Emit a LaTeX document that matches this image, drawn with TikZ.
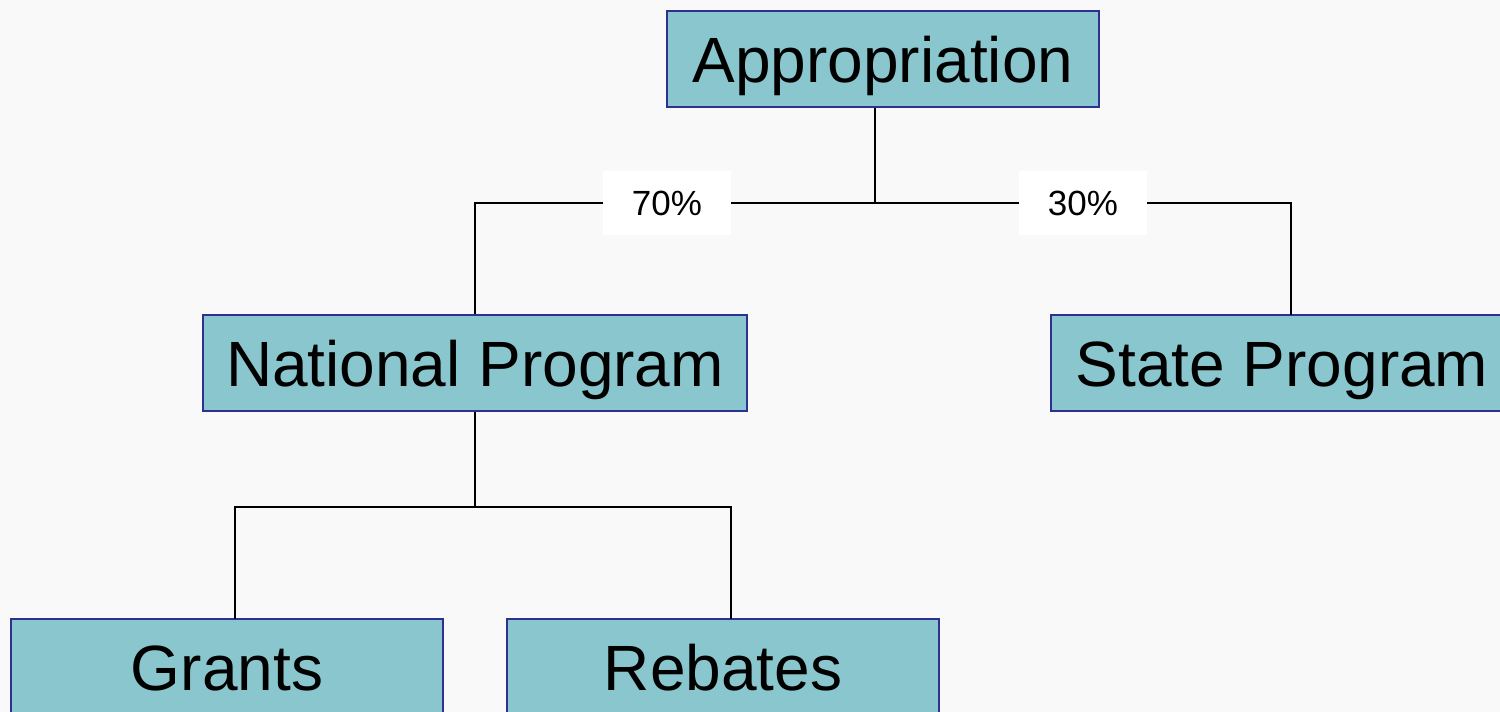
\documentclass[tikz,border=0pt]{standalone}
\usepackage{fontspec}
\setmainfont{Liberation Sans}
\definecolor{bg}{HTML}{F9F9F9}
\definecolor{boxfill}{HTML}{8AC6CE}
\definecolor{boxline}{HTML}{2E3192}
\begin{document}
\begin{tikzpicture}[x=0.5pt,y=-0.5pt,
  orgbox/.style={draw=boxline, fill=boxfill, line width=1pt, minimum height=48pt, inner sep=0pt,
    text height=23pt, text depth=0pt,
    font=\fontsize{32}{38}\selectfont, text=black},
  pct/.style={fill=white, minimum width=64pt, minimum height=32pt, inner sep=0pt,
    text height=12.5pt, text depth=0pt,
    font=\fontsize{17.5}{21}\selectfont},
  conn/.style={line width=1pt, black}]
\fill[bg] (0,0) rectangle (1500,712);
\useasboundingbox (0,0) rectangle (1500,712);
\clip (0,0) rectangle (1500,712);
\node[orgbox, minimum width=216pt] (app) at (883,59) {Appropriation};
\node[orgbox, minimum width=272pt] (nat) at (475,363) {National Program};
\node[orgbox, minimum width=231pt] (st) at (1282,363) {State Program};
\node[orgbox, minimum width=216pt] (gr) at (227,667) {Grants};
\node[orgbox, minimum width=216pt] (reb) at (723,667) {Rebates};
\coordinate (j1) at (875,203);
\coordinate (sx) at (1291,315);
\coordinate (j2) at (475,507);
\coordinate (gx) at (235,619);
\coordinate (rx) at (731,619);
\draw[conn] (app.south -| j1) -- (j1);
\draw[conn] (nat.north) -- (nat.north |- j1) -- (sx |- j1) -- (sx);
\draw[conn] (nat.south) -- (j2);
\draw[conn] (gx) -- (gx |- j2) -- (rx |- j2) -- (rx);
\node[pct] (p70) at (667,203) {70\%};
\node[pct] (p30) at (1083,203) {30\%};
\end{tikzpicture}
\end{document}
